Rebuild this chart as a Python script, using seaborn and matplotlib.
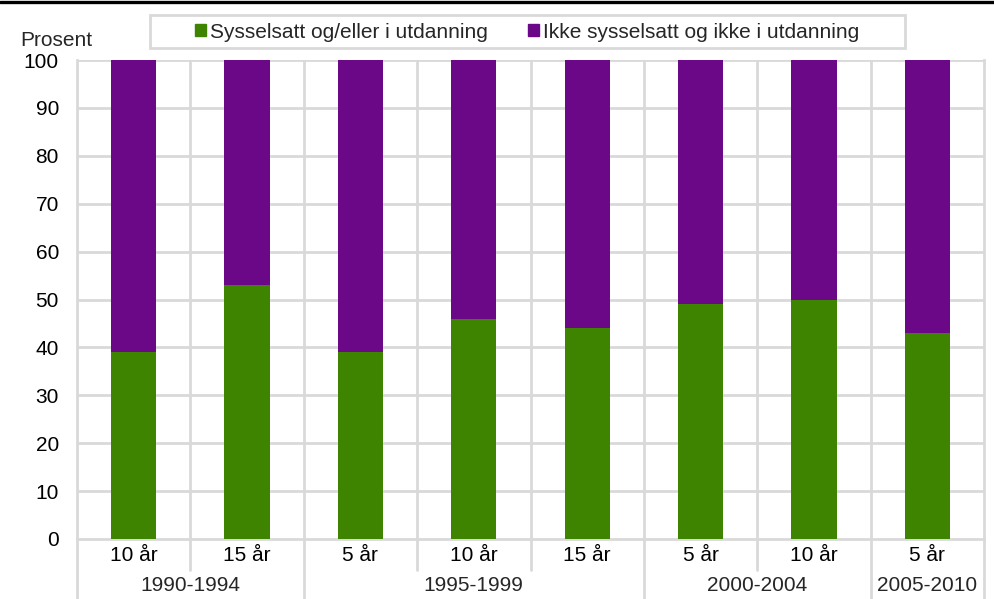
import numpy as np
import pandas as pd
import matplotlib
matplotlib.use("Agg")
import matplotlib.pyplot as plt
from matplotlib.lines import Line2D
from matplotlib.patches import Patch, Rectangle
import seaborn as sns

# data
sub_labels = ["10 år", "15 år", "5 år", "10 år", "15 år", "5 år", "10 år", "5 år"]
groups = ["1990-1994", "1995-1999", "2000-2004", "2005-2010"]
group_sizes = [2, 3, 2, 1]
employed = [39, 53, 39, 46, 44, 49, 50, 43]
not_employed = [100 - v for v in employed]

green = "#3f8400"
purple = "#6a0888"
grid = "#d9d9d9"
fs = 15

sns.set_theme(style="white")
plt.rcParams["font.family"] = ["Liberation Sans", "DejaVu Sans"]

df = pd.DataFrame({
    "key": [f"c{i}" for i in range(len(sub_labels))],
    "sub": sub_labels,
    "green": employed,
    "purple": not_employed,
})
df["total"] = df["green"] + df["purple"]

fig = plt.figure(figsize=(9.95, 5.99), dpi=100)
ax = fig.add_axes([77 / 995, 1 - 539 / 599, (984 - 77) / 995, (539 - 60) / 599])

sns.barplot(data=df, x="key", y="total", color=purple, width=0.4, saturation=1,
            linewidth=0, ax=ax, zorder=3)
sns.barplot(data=df, x="key", y="green", color=green, width=0.4, saturation=1,
            linewidth=0, ax=ax, zorder=3)

ax.set_xlim(-0.5, len(sub_labels) - 0.5)
ax.set_ylim(0, 100)
ax.set_yticks(np.arange(0, 101, 10))
ax.set_xticks(range(len(sub_labels)))
ax.set_xticklabels(sub_labels)
ax.set_xlabel("")
ax.set_ylabel("")
ax.tick_params(axis="both", length=0, labelsize=fs, colors="black")
ax.tick_params(axis="x", pad=5)
ax.tick_params(axis="y", pad=13)

# gridlines
for y in np.arange(10, 101, 10):
    ax.axhline(y, color=grid, lw=2, zorder=1)
for x in np.arange(0.5, len(sub_labels) - 0.5, 1):
    ax.axvline(x, color=grid, lw=2, zorder=1)
ax.spines["top"].set_visible(False)
for s in ["left", "right", "bottom"]:
    ax.spines[s].set_color(grid)
    ax.spines[s].set_linewidth(2)

# separators below the axis
trans = ax.get_xaxis_transform()
edges = np.concatenate([[0], np.cumsum(group_sizes)]) - 0.5
for x in edges:
    ax.plot([x, x], [0, -0.125], color=grid, lw=2, transform=trans, clip_on=False)
for x in np.arange(0.5, len(sub_labels) - 0.5, 1):
    if x not in edges:
        ax.plot([x, x], [0, -0.065], color=grid, lw=2, transform=trans, clip_on=False)

for g, a, b in zip(groups, edges[:-1], edges[1:]):
    ax.text((a + b) / 2, -0.097, g, transform=trans, ha="center", va="center", fontsize=fs)

fig.text(20 / 995, 1 - 40 / 599, "Prosent", ha="left", va="center", fontsize=fs)

handles = [Patch(color=green, label="Sysselsatt og/eller i utdanning"),
           Patch(color=purple, label="Ikke sysselsatt og ikke i utdanning")]
leg = fig.legend(handles=handles, loc="center", bbox_to_anchor=(527 / 995, 1 - 32 / 599),
                 ncol=2, frameon=False, fontsize=fs,
                 handlelength=0.55, handleheight=0.55, handletextpad=0.2, columnspacing=1.9)

# legend frame drawn as a plain box
fig.add_artist(Rectangle((150 / 995, 1 - 48 / 599), 755 / 995, 33 / 599, fill=False,
                         edgecolor=grid, lw=2, transform=fig.transFigure))

fig.add_artist(Line2D([0, 1], [1 - 1.5 / 599, 1 - 1.5 / 599], color="black", lw=2.4,
                      transform=fig.transFigure))

fig.savefig("out.png", dpi=100)
